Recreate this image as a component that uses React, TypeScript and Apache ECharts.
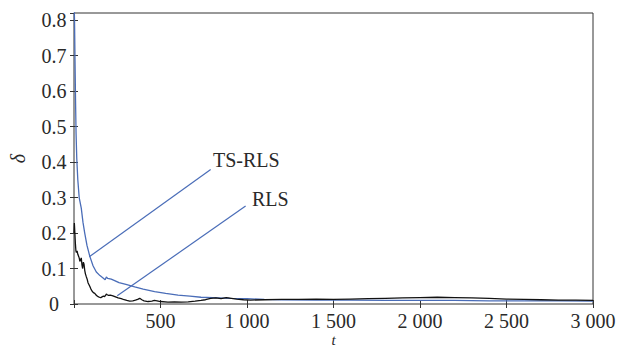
import React, { useEffect, useRef } from "react";
import * as echarts from "echarts";

// TS-RLS series (t, delta)
const tsT = [0, 3, 6, 9, 12, 16, 22, 30, 42, 52, 62, 75, 91, 110, 129, 150, 168, 180, 187, 195, 215, 235, 260, 300, 351, 400, 466, 530, 601, 670, 734, 800, 900, 1000, 1100, 1200, 1400, 1600, 1800, 2000, 2200, 2400, 2600, 2800, 3000];
const tsV = [0.86, 0.8, 0.68, 0.57, 0.48, 0.41, 0.35, 0.3, 0.27, 0.23, 0.2, 0.165, 0.135, 0.108, 0.09, 0.08, 0.073, 0.068, 0.076, 0.072, 0.07, 0.066, 0.06, 0.055, 0.048, 0.042, 0.035, 0.03, 0.025, 0.022, 0.019, 0.018, 0.016, 0.015, 0.013, 0.012, 0.011, 0.011, 0.01, 0.01, 0.01, 0.009, 0.009, 0.009, 0.008];

// RLS series (t, delta)
const rlsT = [0, 2, 5, 8, 11, 14, 18, 22, 26, 30, 34, 38, 42, 46, 50, 54, 58, 62, 66, 71, 76, 81, 86, 91, 98, 105, 112, 120, 128, 136, 142, 148, 155, 162, 170, 177, 183, 187, 192, 200, 210, 225, 240, 255, 273, 290, 305, 322, 340, 355, 368, 380, 392, 405, 428, 450, 465, 480, 500, 543, 580, 620, 660, 700, 734, 760, 790, 820, 850, 880, 910, 940, 980, 1020, 1100, 1200, 1300, 1400, 1500, 1600, 1700, 1800, 1900, 2000, 2100, 2200, 2300, 2400, 2500, 2600, 2700, 2800, 2900, 3000];
const rlsV = [0.2, 0.228, 0.2, 0.17, 0.15, 0.145, 0.15, 0.14, 0.135, 0.13, 0.12, 0.125, 0.13, 0.11, 0.1, 0.118, 0.112, 0.095, 0.085, 0.077, 0.07, 0.06, 0.055, 0.05, 0.042, 0.036, 0.032, 0.03, 0.025, 0.022, 0.02, 0.019, 0.018, 0.02, 0.022, 0.021, 0.025, 0.028, 0.026, 0.024, 0.025, 0.023, 0.02, 0.017, 0.015, 0.012, 0.01, 0.008, 0.009, 0.011, 0.013, 0.016, 0.012, 0.009, 0.007, 0.008, 0.01, 0.009, 0.007, 0.005, 0.006, 0.005, 0.006, 0.008, 0.01, 0.012, 0.016, 0.017, 0.015, 0.018, 0.016, 0.014, 0.012, 0.011, 0.012, 0.013, 0.013, 0.014, 0.013, 0.014, 0.015, 0.016, 0.017, 0.018, 0.019, 0.018, 0.017, 0.016, 0.014, 0.013, 0.012, 0.011, 0.011, 0.01];

// Annotation leader lines in data coordinates: [labelEnd, curveEnd]
const tsLeader = [[790, 0.379], [88, 0.133]];
const rlsLeader = [[992, 0.276], [250, 0.023]];
const seriesNames = ["TS-RLS", "RLS"];

const BLUE = "#4a6db8";
const FONT = "'Liberation Serif', 'Times New Roman', 'DejaVu Serif', serif";
const TEXT = "#2a2a2a";

export default function App() {
  const ref = useRef<HTMLDivElement>(null);
  useEffect(() => {
    if (!ref.current) return;
    const chart = echarts.init(ref.current, null, { renderer: "svg" });
    const fmtX = (v: number) => {
      if (v === 0) return "";
      const s = String(Math.round(v));
      return s.length > 3 ? s.slice(0, s.length - 3) + " " + s.slice(-3) : s;
    };
    const fmtY = (v: number) => {
      const r = Math.round(v * 10) / 10;
      if (Math.abs(r - v) > 1e-6) return "";
      return r === 0 ? "0" : r.toFixed(1);
    };
    const axisCommon = {
      axisLine: { show: false },
      splitLine: { show: false },
      axisTick: { show: true, inside: true, length: 4, lineStyle: { color: "#333", width: 1 } },
    };
    chart.setOption({
      animation: false,
      backgroundColor: "#fff",
      grid: { left: 74, right: 36, top: 13, bottom: 44, show: true, borderColor: "#333", borderWidth: 1, backgroundColor: "transparent", containLabel: false, outerBoundsMode: "none" },
      xAxis: [
        {
          type: "value", min: 0, max: 3000, interval: 500, position: "bottom",
          name: "t", nameLocation: "middle", nameGap: 29, nameMoveOverlap: false,
          nameTextStyle: { fontFamily: FONT, fontStyle: "italic", fontSize: 15, lineHeight: 14, color: TEXT, verticalAlign: "top" },
          axisLabel: { formatter: fmtX, fontFamily: FONT, fontSize: 20, lineHeight: 16, color: TEXT, margin: 9 },
          ...axisCommon,
        },
        { type: "value", min: 0, max: 3000, interval: 500, position: "top", axisLabel: { show: false }, ...axisCommon },
      ],
      yAxis: [
        {
          type: "value", min: 0, max: 0.82, interval: 0.1, position: "left",
          name: "δ", nameLocation: "middle", nameGap: 46,
          nameTextStyle: { fontFamily: FONT, fontStyle: "italic", fontSize: 20, color: TEXT },
          axisLabel: { formatter: fmtY, fontFamily: FONT, fontSize: 20, color: TEXT, margin: 20, align: "center", showMaxLabel: false },
          ...axisCommon,
        },
        { type: "value", min: 0, max: 0.82, interval: 0.1, position: "right", axisLabel: { show: false }, ...axisCommon },
      ],
      series: [
        {
          name: seriesNames[0], type: "line", showSymbol: false, symbol: "none",
          data: tsT.map((t, i) => [t, tsV[i]]),
          lineStyle: { color: BLUE, width: 1.3 }, clip: true,
          markLine: {
            silent: true, symbol: ["none", "none"], animation: false,
            label: { show: false },
            lineStyle: { color: BLUE, width: 1.2, type: "solid" },
            data: [
              [{ coord: tsLeader[0] }, { coord: tsLeader[1] }],
              [{ coord: rlsLeader[0] }, { coord: rlsLeader[1] }],
            ],
          },
        },
        {
          name: seriesNames[1], type: "line", showSymbol: false, symbol: "none",
          data: rlsT.map((t, i) => [t, rlsV[i]]),
          lineStyle: { color: "#111", width: 1.3 }, clip: true,
        },
      ],
      graphic: [
        { type: "text", left: 213, top: 150, style: { text: seriesNames[0], fontFamily: FONT, fontSize: 20, fill: TEXT } },
        { type: "text", left: 252, top: 189, style: { text: seriesNames[1], fontFamily: FONT, fontSize: 20, fill: TEXT } },
      ],
    });
    return () => chart.dispose();
  }, []);
  return <div ref={ref} style={{ position: "fixed", left: 0, top: 0, width: 629, height: 348 }} />;
}
